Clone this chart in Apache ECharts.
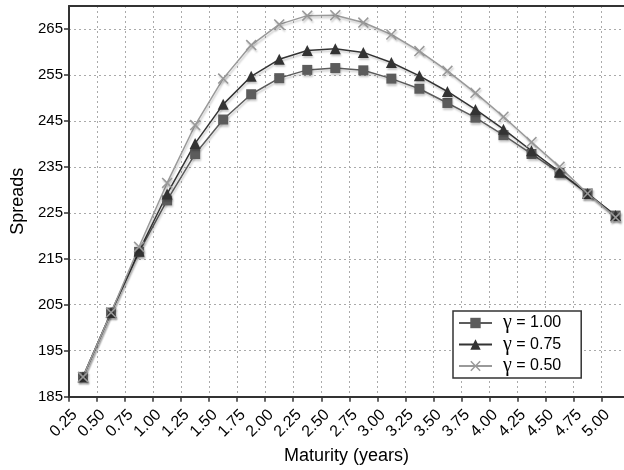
<!DOCTYPE html>
<html>
<head>
<meta charset="utf-8">
<script src="https://cdn.jsdelivr.net/npm/echarts@6/dist/echarts.min.js"></script>
<style>
  html, body { margin: 0; padding: 0; background: #fff; }
  #chart { width: 624px; height: 470px; }
</style>
</head>
<body>
<div id="chart"></div>
<script>
// maturities (years) at which the spreads are plotted
const maturities = [0.375, 0.625, 0.875, 1.125, 1.375, 1.625, 1.875, 2.125, 2.375, 2.625,
  2.875, 3.125, 3.375, 3.625, 3.875, 4.125, 4.375, 4.625, 4.875, 5.125]

const gammas = ['1.00', '0.75', '0.50']

const spreadsG100 = [189.3, 203.3, 216.5, 227.7, 237.8, 245.3, 250.8, 254.3, 256.1, 256.5,
  256.0, 254.2, 252.0, 248.9, 245.7, 241.9, 237.8, 233.7, 229.2, 224.4]
const spreadsG075 = [189.3, 203.3, 216.7, 229.1, 240.1, 248.6, 254.7, 258.4, 260.3, 260.7,
  259.9, 257.7, 254.8, 251.4, 247.5, 243.2, 238.5, 233.9, 229.2, 224.4]
const spreadsG050 = [189.3, 203.3, 217.6, 231.5, 244.1, 254.2, 261.5, 266.0, 267.9, 268.0,
  266.4, 263.8, 260.2, 255.9, 251.1, 245.9, 240.4, 235.0, 229.2, 224.0]

const crossPath = 'path://M1,0L5,4L9,0L10,1L6,5L10,9L9,10L5,6L1,10L0,9L4,5L0,1Z'
const font = "'Liberation Sans', Arial, sans-serif"

const chart = echarts.init(document.getElementById('chart'), null, { renderer: 'canvas' })

function makeSeries(name, values, color, symbol, size) {
  return {
    name,
    type: 'line',
    data: values.map((v, i) => [maturities[i], v]),
    symbol,
    symbolSize: size,
    showAllSymbol: true,
    lineStyle: {
      color, width: 1.5,
      shadowColor: 'rgba(0,0,0,0.22)', shadowBlur: 2, shadowOffsetX: 1, shadowOffsetY: 2,
    },
    itemStyle: {
      color, borderWidth: 0,
      shadowColor: 'rgba(0,0,0,0.22)', shadowBlur: 2, shadowOffsetX: 1, shadowOffsetY: 2,
    },
    emphasis: { disabled: true },
    animation: false,
  }
}

chart.setOption({
  animation: false,
  textStyle: { fontFamily: font },
  grid: { left: 69, right: 0, top: 6, bottom: 71 },
  legend: {
    orient: 'vertical',
    left: 453,
    top: 311,
    padding: [2, 20, 2, 5],
    itemWidth: 33,
    itemHeight: 13,
    itemGap: 1.5,
    borderColor: '#333',
    borderWidth: 1.5,
    borderRadius: 0,
    backgroundColor: '#fff',
    data: gammas,
    formatter: n => '{g|γ}{t| = ' + n + '}',
    textStyle: {
      rich: {
        g: { fontFamily: "'Liberation Serif', 'DejaVu Serif', serif", fontSize: 20, lineHeight: 16, color: '#000', padding: [0, 0, 0, 6] },
        t: { fontFamily: font, fontSize: 16, lineHeight: 16, color: '#000' },
      },
    },
  },
  xAxis: [{
    type: 'value',
    min: 0.25,
    max: 5.2,
    interval: 0.25,
    name: 'Maturity (years)',
    nameLocation: 'middle',
    nameGap: 46,
    nameTextStyle: { fontSize: 18, color: '#000', fontFamily: font },
    axisLine: { show: true, onZero: false, lineStyle: { color: '#333', width: 2 } },
    axisTick: { show: true, length: 5, lineStyle: { color: '#333', width: 1.5 } },
    axisLabel: {
      rotate: 45, fontSize: 16, color: '#000', margin: 10, showMaxLabel: false,
      verticalAlign: 'top',
      formatter: v => v.toFixed(2),
    },
    splitLine: { show: true, lineStyle: { color: '#aaa', type: [2, 3], width: 1 } },
  }, {
    type: 'value',
    position: 'top',
    min: 0.25,
    max: 5.2,
    interval: 0.25,
    axisLine: { show: true, onZero: false, lineStyle: { color: '#333', width: 2 } },
    axisTick: { show: false },
    axisLabel: { show: false },
    splitLine: { show: false },
  }],
  yAxis: {
    type: 'value',
    min: 185,
    max: 270,
    interval: 10,
    name: 'Spreads',
    nameLocation: 'middle',
    nameGap: 42,
    nameTextStyle: { fontSize: 18, color: '#000', fontFamily: font },
    axisLine: { show: true, lineStyle: { color: '#333', width: 2 } },
    axisTick: { show: true, length: 5, lineStyle: { color: '#333', width: 1.5 } },
    axisLabel: { fontSize: 15, color: '#000', margin: 6, showMaxLabel: false },
    splitLine: { show: true, lineStyle: { color: '#aaa', type: [2, 3], width: 1 } },
  },
  series: [
    makeSeries(gammas[0], spreadsG100, '#5c5c5c', 'rect', 10),
    makeSeries(gammas[1], spreadsG075, '#333333', 'triangle', 11),
    makeSeries(gammas[2], spreadsG050, '#999999', crossPath, 11),
  ],
})

window.addEventListener('resize', () => chart.resize())
</script>
</body>
</html>
